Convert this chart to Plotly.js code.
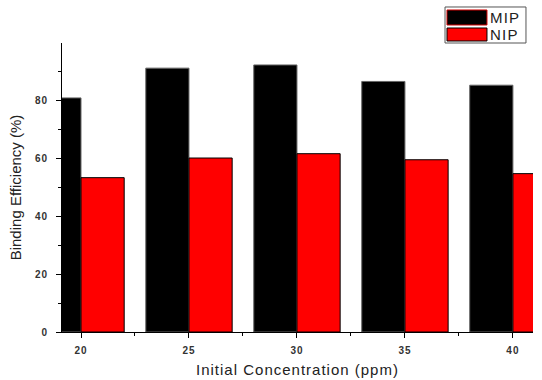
<!DOCTYPE html>
<html><head><meta charset="utf-8">
<script src="https://cdn.plot.ly/plotly-3.0.1.min.js"></script>
<style>
html,body{margin:0;padding:0;background:#fff}
#chart{width:542px;height:380px}
.g-xtitle text{letter-spacing:1px}
.xtick text,.ytick text{letter-spacing:1px}
.annotation-text{letter-spacing:1.2px}
</style>
</head><body><div id="chart"></div>
<script>
const concentrations = [20, 25, 30, 35, 40];
const mipValues = [81.0, 91.3, 92.4, 86.7, 85.4];
const nipValues = [53.4, 60.2, 61.7, 59.6, 54.8];
const seriesNames = ['MIP', 'NIP'];
const seriesColors = ['#000000', '#ff0000'];
const xTicks = [20, 25, 30, 35, 40];
const yTicks = [0, 20, 40, 60, 80];

const traces = [
  {type:'bar', name:seriesNames[0], x:concentrations, y:mipValues, offset:-2, width:2,
   marker:{color:seriesColors[0], line:{color:'#666666', width:1}}},
  {type:'bar', name:seriesNames[1], x:concentrations, y:nipValues, offset:0, width:2,
   marker:{color:seriesColors[1], line:{color:'#000000', width:1}}}
];

// legend drawn in paper coordinates (box, swatches, labels)
const legShapes = [
  {type:'rect', xref:'paper', yref:'paper', x0:0.8132, x1:0.9851, y0:1.0, y1:1.1246,
   line:{color:'#555', width:1}, fillcolor:'#fff', layer:'above'},
  {type:'rect', xref:'paper', yref:'paper', x0:0.8174, x1:0.9023, y0:1.0623, y1:1.1142,
   line:{color:'#d00000', width:1}, fillcolor:seriesColors[0], layer:'above'},
  {type:'rect', xref:'paper', yref:'paper', x0:0.8174, x1:0.9023, y0:1.0069, y1:1.0519,
   line:{color:'#000', width:1}, fillcolor:seriesColors[1], layer:'above'}
];
const legAnn = [
  {xref:'paper', yref:'paper', x:0.9045, y:1.088, xanchor:'left', yanchor:'middle', showarrow:false,
   text:seriesNames[0], font:{size:15, color:'#222'}},
  {xref:'paper', yref:'paper', x:0.9045, y:1.028, xanchor:'left', yanchor:'middle', showarrow:false,
   text:seriesNames[1], font:{size:15, color:'#222'}}
];

const layout = {
  width:542, height:380,
  margin:{l:62, r:9, t:43, b:48},
  paper_bgcolor:'#fff', plot_bgcolor:'#fff',
  barmode:'overlay',
  showlegend:false,
  font:{family:'Arial, Liberation Sans, sans-serif', color:'#222'},
  xaxis:{range:[19.12, 40.93], tickvals:xTicks, ticktext:xTicks.map(String),
    showline:true, linecolor:'#000', linewidth:1, ticks:'outside', ticklen:5, tickcolor:'#000',
    showgrid:false, zeroline:false, tickfont:{size:10, color:'#333', weight:'bold'}, ticklabelstandoff:4,
    minor:{tickvals:[22.5,27.5,32.5,37.5], ticks:'outside', ticklen:3, tickcolor:'#000', showgrid:false},
    title:{text:'Initial Concentration (ppm)', font:{size:15, color:'#222'}, standoff:9}},
  yaxis:{range:[0,100], tickvals:yTicks, ticktext:yTicks.map(String),
    showline:true, linecolor:'#000', linewidth:1, ticks:'outside', ticklen:5, tickcolor:'#000',
    showgrid:false, zeroline:false, tickfont:{size:10, color:'#333', weight:'bold'}, ticklabelstandoff:6,
    minor:{tickvals:[10,30,50,70,90], ticks:'outside', ticklen:3, tickcolor:'#000', showgrid:false},
    title:{text:'Binding Efficiency (%)', font:{size:15, color:'#222'}, standoff:9}},
  shapes:legShapes,
  annotations:legAnn
};
Plotly.newPlot('chart', traces, layout, {staticPlot:true, displayModeBar:false});
</script></body></html>
